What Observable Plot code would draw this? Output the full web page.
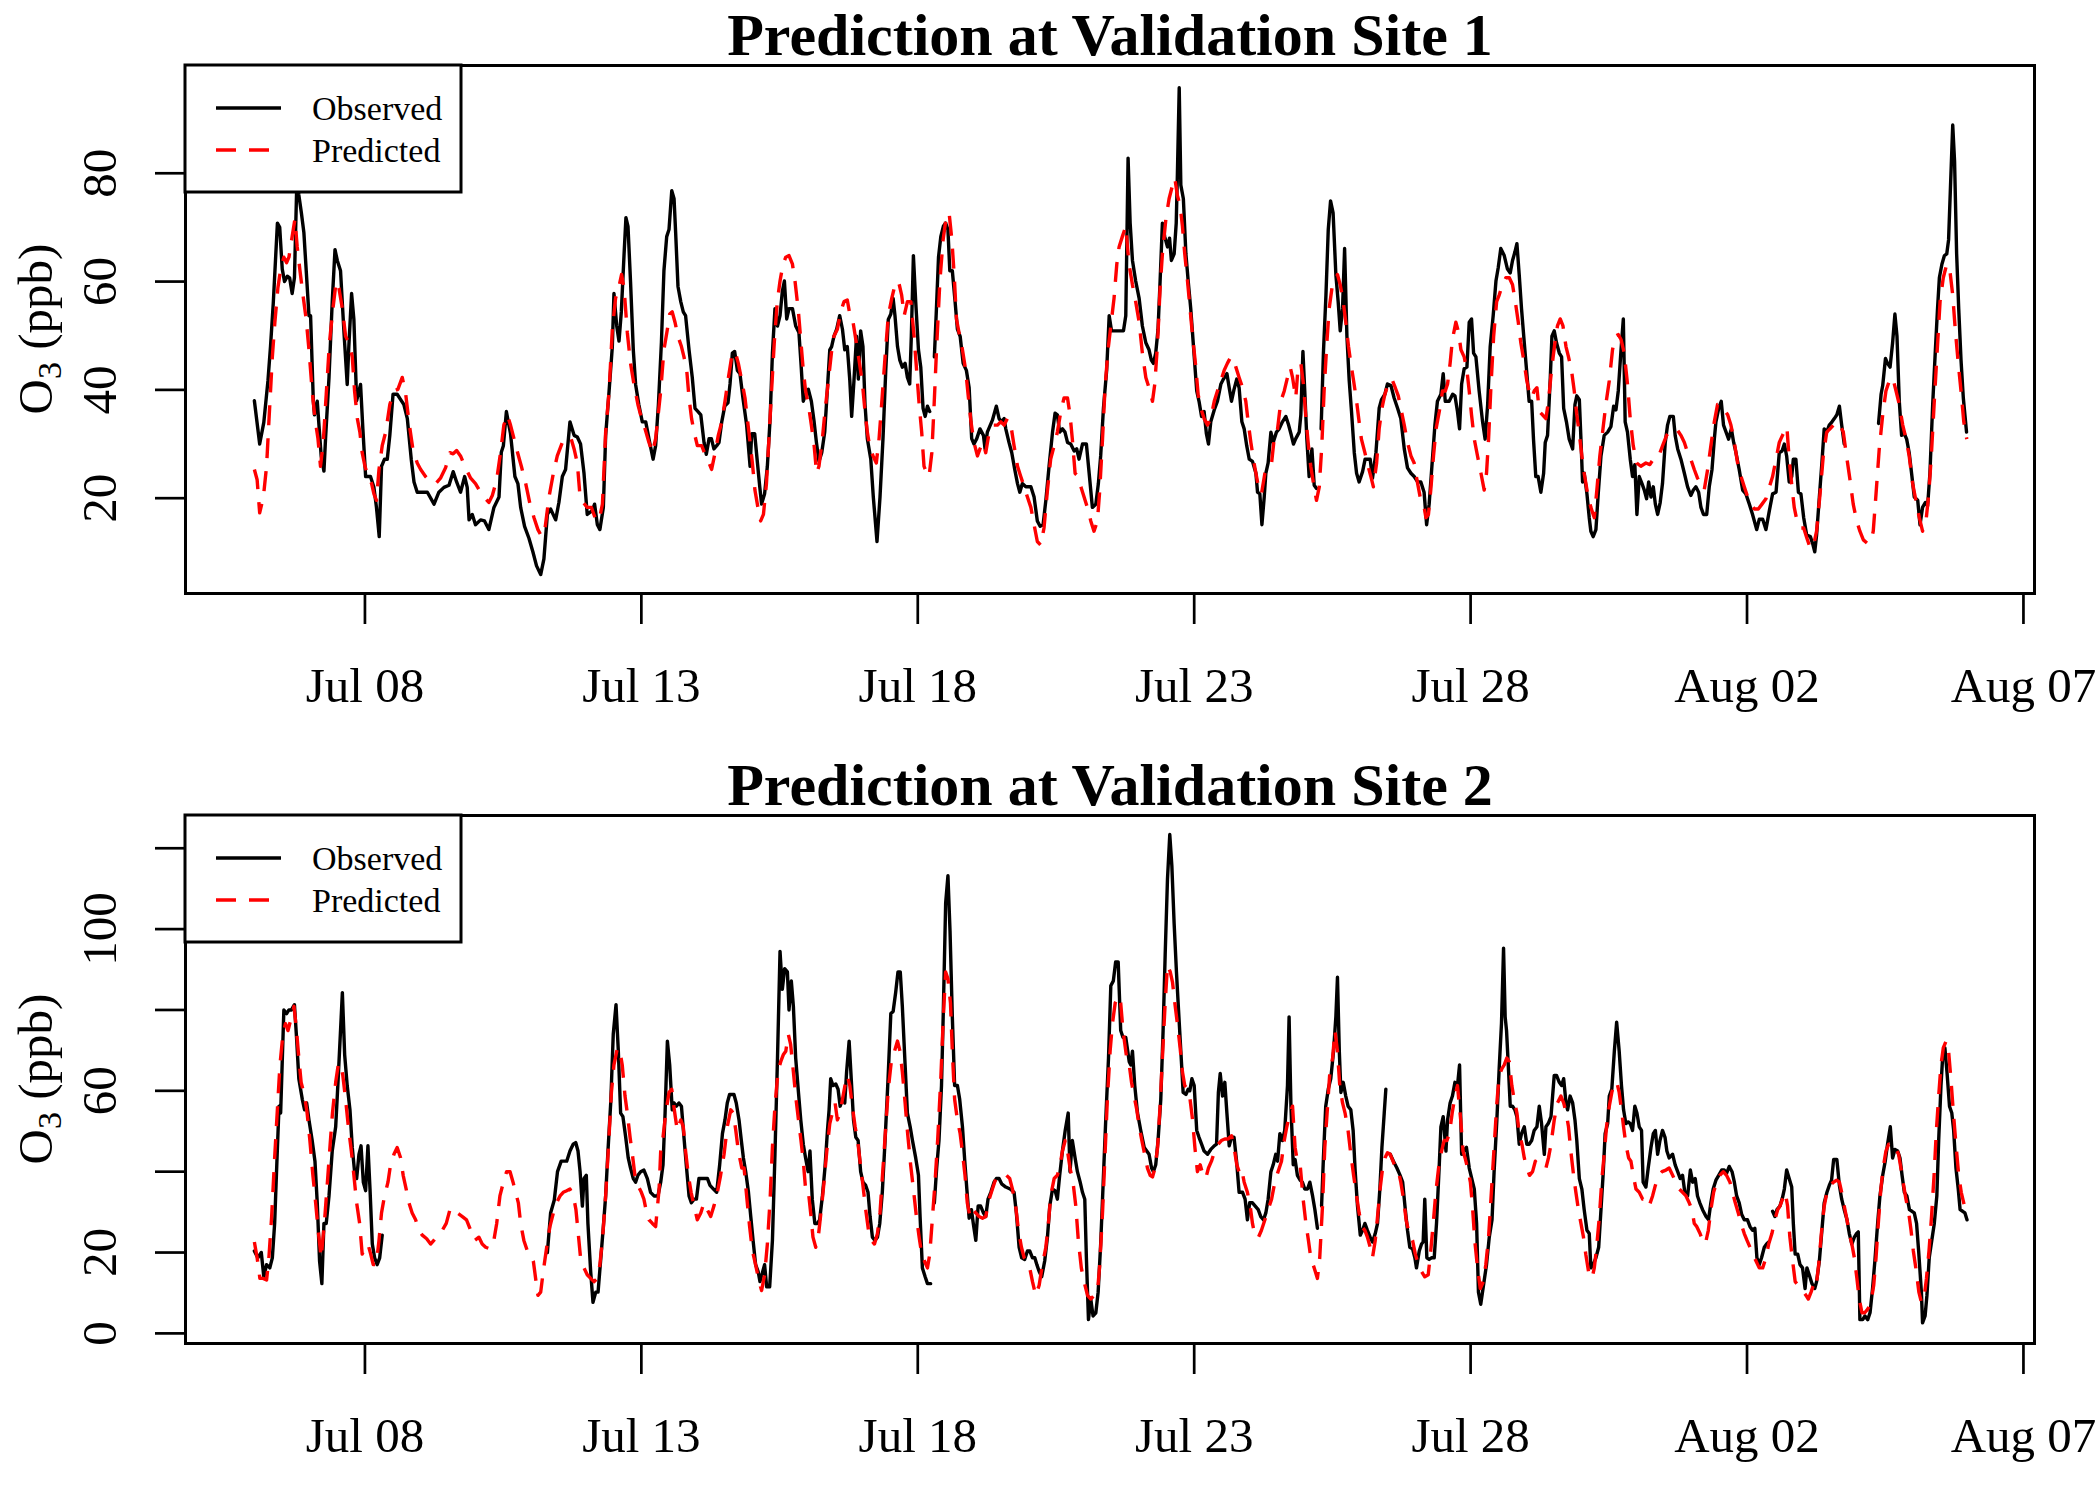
<!DOCTYPE html>
<html><head><meta charset="utf-8">
<script src="https://cdn.jsdelivr.net/npm/d3@7"></script>
<script src="https://cdn.jsdelivr.net/npm/@observablehq/plot@0.6"></script>
<style>
body{margin:0;background:#fff;}
#chart{width:2100px;height:1500px;}
#chart svg{display:block;}
</style></head><body><div id="chart"></div>
<script>
// ---- Data (hours since Jul 6 00:00, ozone ppb); null = missing ----
const panelTitles = ["Prediction at Validation Site 1", "Prediction at Validation Site 2"];
const seriesNames = ["Observed", "Predicted"];
const xTickLabels = ["Jul 08", "Jul 13", "Jul 18", "Jul 23", "Jul 28", "Aug 02", "Aug 07"];
const xTickDayOffsets = [2, 7, 12, 17, 22, 27, 32];
const yTicks1 = [20, 40, 60, 80];
const yLabels1 = [20, 40, 60, 80];
const yTicks2 = [0, 20, 40, 60, 80, 100, 120];
const yLabels2 = [0, 20, 60, 100];
const yDomain1 = [2.4, 99.9];
const yDomain2 = [-2.5, 128.1];
const xDomainHours = [-29.9, 772.8];

const site1Observed = [[0,38],[2.3,30],[4.1,34],[5.9,41.7],[7,48],[8.2,56],[10,70.8],[11,70],[12.1,62.3],[13.1,60],[14.3,61],[15.3,60.7],[16.4,57.8],[17.4,60.7],[18.3,76.2],[18.8,79],[19.3,76],[20.4,72.7],[21.5,69],[22.7,60.7],[23.7,53.7],[24.4,53.7],[25.6,37.9],[26.1,35.4],[27.3,37.9],[29,27.8],[30.2,25],[30.9,31],[32.4,42.3],[33.8,56.3],[35,65.9],[36,63.9],[37.4,62],[38.9,50.6],[40.3,41],[41,48],[42.2,57.8],[43.2,53],[44.4,38],[45.4,39.8],[46.1,41],[47.1,32.8],[48.3,24],[50.4,24],[51.9,22],[53,18.3],[54.2,12.9],[55.2,25.9],[56.5,27.2],[57.7,27.2],[58.8,31.6],[60.2,39.2],[62,39.2],[63.5,38.2],[64.9,37.3],[66.4,34.7],[68.1,27.2],[69.3,23],[70.7,21.1],[75.1,21.1],[78,18.9],[80.1,21.1],[82.3,22],[84.5,22.4],[86.3,24.9],[87.8,23],[89.5,21.1],[91.3,24],[92.4,22],[93.2,16],[94.6,17],[96,15.1],[98.2,16],[99.9,15.8],[101.8,14.2],[104,18.3],[106.2,20.2],[107.2,28.5],[108.1,29.7],[109.4,36],[111.2,31.9],[113.1,24],[114.4,22.7],[115.6,18.3],[117.3,14.8],[119.2,12.6],[120.9,10.1],[122.5,7.5],[124.3,5.9],[125.7,8.8],[127.2,17],[128.6,18],[130.8,16],[132.2,19.2],[133.7,24],[135.1,25.3],[137,34.1],[138.8,31.6],[140.2,31.3],[141.6,30],[143.1,24.6],[144.5,17],[146.7,17.7],[147.7,18.9],[148.9,15.1],[150,14.2],[151.5,18.3],[152.5,31.6],[154,39.8],[155.4,48],[156.1,57.8],[157.3,51.8],[158.3,49],[159.3,54.4],[160.5,65.1],[161.3,71.8],[162.2,70.2],[163.3,60],[164.5,47.4],[165.5,41],[166.9,37.3],[168.4,34.1],
[169.9,34.1],[171.6,30.3],[173.1,27.2],[174.2,29.7],[175.4,37.3],[176.7,48.7],[177.8,62],[179,68.3],[180,69.6],[181.2,76.8],[182.2,75.3],[182.9,68.9],[183.9,59.1],[185.1,56.3],[186.2,54.4],[187.2,53.7],[188.7,47.4],[190.1,42.3],[191.3,36.6],[192.6,36],[193.8,35.4],[195.2,30.3],[196.2,28.1],[197.4,31],[198.4,31],[199.5,29.1],[200.7,29.7],[201.7,30.3],[202.9,34.1],[204.2,37],[205.6,37.6],[206.5,41.1],[207.5,46.8],[208.5,47.1],[209.7,43.6],[210.8,43],[212.1,38.5],[213.7,33.5],[215.2,25.9],[215.9,31.9],[217.2,31.9],[218.4,26.5],[219.4,22.1],[220.2,18.9],[221.5,20.8],[222.7,25.9],[223.9,34.7],[224.9,46.8],[226,55],[227.1,51.8],[228.2,53.7],[229.2,58.2],[230.1,60.1],[231.1,53.1],[232.1,55],[233.6,55],[235,51.8],[236.4,50.6],[237.3,44.9],[238.3,37.9],[239.3,39.2],[240.5,40.1],[241.8,37.9],[243,34.1],[244,30.3],[245.1,26.8],[246.3,28.4],[247.6,32.2],[248.8,40.4],[249.8,47.4],[250.6,48],[251.6,49.9],[252.8,51.2],[254.1,53.7],[255.3,51.2],[256.3,47.4],[257.4,48],[258.5,41.7],[259.3,35.1],[260.3,41.7],[261.4,49.9],[262.2,42],[263.2,50.9],[264.2,48],[265.1,37.3],[266.1,31],[267.6,27.2],[268.7,20.2],[270.3,12],[271.6,20.2],[272.9,31],[274.1,43.6],[275.2,53],[276.3,54],[277.3,56.9],[278.1,53.7],[279.2,48],[280.2,45.5],[281.3,44.2],[282.5,44.9],[283.5,42.3],[284.5,41.1],[285.2,49.9],[286.1,64.8],[287.1,56.3],[288.3,47.4],[289.3,44.2],[290.3,36.6],[291.2,35.1],[292.2,37],[293.2,36],[294.2,null],[295.2,46.1],[296.1,55],[297,64.5],[298,68.3],[299.1,70.2],[300.1,70.8],[301.1,69.6],[301.9,62],[303,62],[304.2,56.3],[305.2,51.2],[306.4,49.9],[307.7,44.9],[309.1,43.6],[310.3,40.4],[311.4,31],[312.4,30],[313.6,31],[315,32.8],[316.5,31.6],[317.2,29.1],[318.2,32.2],[320.4,34.4],[322.1,37],[323.3,34.7],[324.4,34.1],[325.5,34.7],[326.2,32.8],[327.6,30.3],[328.8,28.4],[330.1,25.3],[331.3,22.7],[332.3,21.1],[333.4,22.7],[334.9,22.1],[337.1,22.1],[338.5,20.2],[339.9,15.8],[341.1,14.8],[342.4,15.1],[343.6,19.6],[345,25.9],[346.5,32.2],[347.6,35.7],[348.6,35.4],[349.6,32.2],[350.8,32.8],[351.9,32.2],[353,30.3],[354.4,30],[355.9,28.7],[357,29.1],[358,27.2],[359.5,30],[361.2,30],[362.4,24.6],[363.8,18.3],[365.3,18.9],[366.4,22.7],[367.4,27.8],[368.6,36.6],[370,43.6],[371.1,53.7],[372.1,50.9],
[377.3,50.9],[378.3,53.7],[379.3,82.8],[380.2,70.8],[381.2,63.9],[382.6,60.1],[384.1,56.9],[385.5,51.8],[387,48.7],[388.4,47.4],[389.4,45.5],[390.3,44.9],[391.3,46.8],[392.3,51.2],[393.2,60.1],[394.2,70.8],[395.2,68.3],[396.4,66.4],[397.3,68],[398.1,63.9],[399.3,65.1],[400.2,70.8],[400.7,79.7],[401.5,95.8],[402.2,77.8],[403.3,75.3],[404.4,65.1],[405.4,60.1],[406.5,55],[407.7,48],[409.1,39.8],[410.1,37.9],[411.2,35.1],[412.3,36],[413.3,31.9],[414.2,30],[415.2,34.1],[416.7,36.3],[418.1,37.9],[419.6,41.1],[420.7,42],[422.2,43],[423.2,40.4],[424.2,37.9],[425.3,40.1],[426.5,42],[427.5,40.4],[428.7,34.1],[429.7,32.8],[430.8,29.7],[431.9,27.2],[433.3,26.8],[434.8,24.6],[435.5,21.1],[436.5,20.8],[437.4,15.1],[438.4,20.2],[439.1,24.6],[440.1,26.5],[441.3,32.2],[442.3,30.3],[443.7,32.2],[444.9,32.8],[446.3,34.1],[447.8,35.1],[449,33.5],[450,31.9],[451.1,30],[452.1,31],[453.6,32.2],[454.3,35.4],[455.2,47.1],[456,39.8],[456.9,31],[457.9,24],[459.1,29.1],[460.1,22.4],[461.1,21.8],[462,null],[463.1,32.8],[464.1,46.8],[465.2,57.5],[466.2,69.6],[467.2,74.9],[468.3,72.7],[469.5,61.3],[470.5,56.3],[471.4,50.9],[472.4,55],[473.3,66.1],[474.3,49.9],[475.3,41.7],[476.3,36],[477.5,28.4],[478.5,24.6],[479.6,23],[481.1,24.9],[482.2,27.2],[484.4,27.2],[485.4,23.7],[486.9,28.4],[488.3,36.6],[489.3,38.2],[490.8,39.2],[491.9,41.1],[493.4,40.8],[494.8,38.5],[496.3,36.6],[497.7,34.7],[499.2,29.1],[500.6,25.6],[502.1,24.6],[503.5,24],[505,23],[506.4,23],[507.8,21.1],[508.9,15.1],[510,18.9],[511.2,25.9],[512.5,33.5],[513.6,37.9],[515.1,39.2],[516.1,43],[517,37.9],[518.7,37.9],[520.2,39.2],[521.2,38.9],[522.3,36],[523.2,32.8],[524.1,41.1],[525.2,43.9],[526.4,44.2],[527.4,52.5],[528.4,53.1],[529.3,46.8],[530.3,46.1],[531.7,39.8],[533.2,34.1],[534.3,30.9],[535.4,37.3],[536.5,48],[537.8,53.7],[539,60.1],[540,62.6],[541.1,66.1],[542.6,64.8],[544,62.3],[545.2,61.6],[546.2,63.9],[547.2,65.4],[548.1,67],[549.1,61.3],[550.1,55],[551.3,48.7],[552.3,43.6],[553.4,37.9],[554.5,37.9],[555.3,30.9],[556.3,24],[557.3,24],[558.5,21.1],[559.7,24.6],[560.4,30.3],[561.4,31.6],[562.6,42.3],[563.3,49.9],[564.3,50.9],[565.3,48.7],[566.5,46.8],[567.5,46.1],[568.4,36.6],[569.6,34.1],[570.8,30.9],[572.3,29.1],[573.3,37.3],[574.1,38.9],[575.2,38.2],[575.9,30.9],[576.6,23],[577.3,24.6],[578.5,20.8],[579.5,16.4],[580.2,13.9],
[581.2,12.9],[582.4,14.2],[583.4,20.8],[584.6,27.8],[586,31.6],[587.5,32.2],[588.9,33.2],[590.1,37],[591.1,36.3],[592.1,39.8],[593.3,47.4],[594.3,53.1],[595.1,34.1],[596.1,32.2],[597.3,27.2],[598.3,24],[599.3,26.2],[600.2,17],[601.2,24],[602.4,22.7],[603.4,21.5],[604.4,19.9],[605.3,23],[606.3,20.2],[607.3,22.1],[608.2,18.9],[609.2,17],[610.3,19.2],[611.3,22.7],[612.5,30.3],[613.5,33.5],[614.5,35.1],[616,35.1],[616.8,31.6],[617.9,29.1],[619.3,27.2],[620.8,24.6],[622.2,22.1],[623.6,20.5],[624.7,21.5],[625.8,22.1],[627,21.1],[628,18.3],[629.1,17],[630.5,17],[631.6,22.1],[632.8,25.3],[633.8,30.9],[634.5,34.1],[635.7,36.6],[636.8,37.9],[637.8,33.5],[638.9,32.2],[640,30.9],[641.2,32.8],[642.2,30.3],[643.2,28.4],[644.6,25.3],[646.1,21.5],[647.5,20.8],[649,18.9],[650.4,17],[652.2,14.2],[653.3,16.1],[654.8,16.1],[656.2,14.2],[657.7,17.7],[659.1,20.8],[660.6,21.1],[662,28.4],[663.2,28.7],[664.2,30],[665.2,27.8],[666.3,23],[667.4,24],[668.1,27.2],[669.2,27.2],[670.3,21.1],[671.4,20.8],[672.6,16.4],[673.9,13.2],[675.5,12.9],[676.5,11.6],[677.4,10.1],[678.2,13.2],[679.4,20.2],[680.5,26.5],[681.5,32.8],[682.6,32.2],[683.7,33.5],[684.9,34.1],[685.9,34.7],[687,35.4],[688.1,37],[689.1,33.5],[690.2,30],[691,null],[705.1,33.8],[706.2,39.2],[706.9,40.8],[708.1,45.8],[709,44.9],[710.1,44.2],[711.2,48.7],[712.2,54],[713.1,49.9],[714.1,37.9],[715.1,31.6],[716.3,31.9],[717.3,30.9],[718.4,28.4],[719.6,24],[720.6,20.2],[722.1,19.6],[723.1,15.1],[724.2,18.3],[725.4,19.2],[726.4,18.6],[727.4,24.6],[728.6,37.3],[729.7,46.8],[730.7,55],[731.5,60.7],[732.6,63.2],[733.7,64.8],[734.7,65.1],[735.5,67.7],[736.4,78.4],[737.3,88.9],[738.1,82.2],[739,65.1],[739.9,55],[740.9,45.5],[741.9,38.5],[743.3,32.2]];

const site1Predicted = [[0,25.3],[1.2,23.4],[2.3,17.3],[3.9,20.2],[5.3,25.9],[6.3,34.1],[7.8,46.1],[8.9,52.5],[10.2,58.8],[11.4,62.3],[12.8,64.5],[14,63.5],[15,64.5],[16.4,68.3],[17.6,71.5],[18.6,66.4],[19.8,62],[21.1,57.5],[22.5,53],[23.7,47.4],[25.1,39.8],[26.3,34.7],[27.6,31],[28.7,25.9],[29.9,30.3],[31.2,39.2],[32.6,48.7],[34.1,55],[35.5,60],[36.7,58.8],[38.2,55],[39.6,49.9],[41,48.7],[42.5,46.1],[43.5,39.8],[44.7,34.7],[45.8,32.2],[46.8,28.4],[48,25.9],[49.4,24],[50.9,22.7],[51.9,20.8],[53,19.6],[54.1,25.3],[55.5,29.7],[57,32.2],[58.8,37.3],[60.6,39.8],[62.3,40.1],[64.2,42.3],[65.7,39.2],[67.1,34.1],[68.8,29.1],[70.7,26.5],[72.2,25.3],[74.3,24],[76.5,23],[78.7,22.7],[80.8,23.7],[83,25.6],[84.9,28.4],[86.3,28.2],[87.8,28.8],[89.5,27.8],[91.7,25.6],[93.9,23.7],[96,22.7],[98.2,21.1],[100.4,19.9],[101.8,19.2],[103.3,20.5],[105.2,23.4],[106.9,28.5],[108.3,33.5],[109.8,35.4],[111.2,33.5],[112.7,31],[114.4,28.2],[115.9,25.9],[117.8,22.7],[119.6,19],[121.4,16.4],[123.1,14.2],[124.7,12.9],[126.2,14.5],[127.9,20.2],[129.8,24.6],[131.5,27.8],[133.7,30.3],[135.6,30.9],[137.3,31.3],[138.8,29.1],[140.2,26.5],[141.4,20.2],[142.8,19.2],[144.5,18.3],[146.3,18.3],[147.9,16.4],[149.6,15.8],[151.1,18.9],[152.5,32.2],[154,39.8],[155.4,51.2],[156.8,56.9],[158.3,59.1],[159.4,61.3],[160.5,58.8],[161.9,50.6],[163.3,44.9],[164.8,41],[166.5,37.3],[168.1,34.7],[169.6,32.8],[171.3,30.3],[172.8,28.4],[174.2,31],
[176.4,39.8],[177.8,47.4],[179.3,51.2],[180.3,54],[181.4,54.4],[182.6,52.5],[183.9,49.9],[185.4,48],[186.5,46.1],[187.7,43.6],[188.7,38.5],[189.8,34.7],[190.9,32.2],[192.3,29.7],[194.2,29.7],[195.9,27.8],[197.4,26.5],[198.5,25.3],[200,28.4],[201.4,31.6],[202.9,34.1],[204.3,37.9],[205.8,42.3],[207.2,46.1],[208.7,47.1],[210.1,44.9],[211.6,41.7],[213,38.5],[214,34.7],[215.2,30.3],[216.2,26.5],[217.3,21.5],[218.6,18.3],[219.8,15.8],[221,17],[222.3,22.7],[223.4,31],[224.6,40.4],[225.7,48.7],[227,56.3],[228.2,60.1],[229.5,63.2],[230.7,64.5],[232.1,64.8],[233.6,63.2],[234.7,60.1],[236.2,54.4],[237.3,48.7],[238.3,43.6],[239.3,39.8],[240.5,37.3],[241.8,33.5],[243,29.7],[244.1,24.6],[245.1,25.9],[246.6,31],[247.7,36],[249.2,41.7],[250.5,46.8],[251.6,49.9],[253.1,51.2],[254.5,54.4],[256,56.3],[257.4,56.6],[258.6,53.7],[259.9,52.5],[261.1,49.3],[262.5,45.5],[264,41.1],[265.1,36],[266.1,32.2],[267.3,29.1],[268.6,27.8],[270,26.5],[271.2,31],[272.3,37.3],[273.8,46.1],[275.2,53.7],[276.7,56.9],[278.1,59.4],[279.6,60.1],[281,57.5],[282.1,53.7],[283.5,56.3],[285,56.3],[286.4,49.9],[287.5,43.6],[288.6,37.3],[289.7,32.2],[290.7,25.9],[291.9,24.6],[292.9,24],[294.1,28.4],[295.1,37.3],[296.2,48],[297.6,60.1],[299,67.7],[300.4,72.1],[301.6,72.7],[302.8,67.7],[303.8,61.3],[304.8,53.1],[305.9,50.6],[307.4,47.4],[308.8,43.6],[310,38.5],[311.1,34.1],[312.4,30.3],[313.9,27.8],[315,29.1],[316.3,30.3],[317.5,28.4],[319,32.2],[320.7,33.5],[322.6,33.5],[324,34.1],[325.5,33.5],[326.9,34.7],[328.4,33.5],[329.8,29.7],[331.3,25.9],[332.7,24],[334.2,22.1],[335.6,20.2],[337.1,18.3],[338.5,15.1],[339.9,12],[341.4,11.3],[342.8,14.5],[344.3,21.5],[345.7,27.2],[347.2,29.7],[348.6,32.2],[350.1,36],[351.5,38.5],[353,38.5],[354.1,35.4],[355.1,30.9],[356.3,24.6],[357.6,24],[358.8,22.1],[360.2,20.2],[361.6,18.3],[363.1,15.8],[364.5,13.9],[366,15.8],[367,21.5],[368.2,30.9],[369.3,40.4],[370.6,47.4],[371.8,51.8],[373.2,56.9],[374.4,63.2],[375.4,66.4],[376.8,68.3],[378.3,70.2],
[379.7,63.2],[381.2,59.4],[382.6,56.3],[384.1,52.5],[385.5,46.8],[387,42.3],[388.4,40.4],[389.9,37.9],[390.9,41.1],[392.1,48.7],[393.2,58.8],[394.2,65.1],[395.7,71.5],[397.1,75.3],[398.6,77.8],[399.6,79.1],[400.7,75.9],[401.9,74],[402.9,70.2],[403.9,65.1],[405.1,60.1],[406.2,55],[407.3,49.9],[408.7,44.2],[409.7,39.2],[410.9,36.6],[412.3,34.7],[413.8,33.5],[415.2,34.7],[416.7,37.9],[418.1,39.8],[419.6,41.7],[421,43.6],[422.4,44.9],[423.9,46.1],[425.1,45.5],[426.1,44.2],[427.5,42.3],[429,40.4],[430.4,37.9],[431.6,33.5],[432.6,30.3],[433.7,27.2],[434.8,24.6],[435.9,22.1],[437.2,20.8],[438.7,24.6],[440.1,25.9],[441.6,26.5],[442.7,30.9],[444.2,32.8],[445.6,37.9],[447.1,39.8],[448.5,42.3],[449.7,44.2],[450.7,42.3],[452.1,38.5],[453.1,44.2],[454.3,44.9],[455.5,40.8],[456.5,34.7],[457.6,29.7],[458.6,25.9],[459.8,22.7],[461.1,19.6],[462.3,22.1],[463.4,29.7],[464.4,39.8],[465.6,48.7],[466.6,55],[467.8,58.8],[469.1,60.1],[470.2,61.3],[471.4,59.4],[472.7,56.3],[473.8,52.5],[475,48],[476,44.9],[477.2,41.7],[478.5,37.9],[479.6,34.1],[480.6,30.9],[482.1,28.4],[483.5,25.9],[484.7,24],[485.8,22.1],[487.2,26.5],[488.3,32.8],[489.5,36.6],[490.8,39.2],[492.2,41.1],[493.8,42],[495.3,40.4],[496.6,38.9],[498,36],[499.2,33.5],[500.6,30.3],[502.1,27.8],[503.5,26.5],[504.7,23.4],[506.1,20.2],[507.6,18.9],[508.6,16.4],[509.7,17],[510.7,21.5],[511.9,27.8],[513,32.8],[514.4,36],[515.8,39.8],[517,39.8],[518,41.1],[519.1,44.9],[520.1,49.3],[521.6,52.5],[522.8,50.6],[523.8,47.4],[525.2,46.1],[526.4,43.6],[527.4,39.8],[528.4,35.4],[529.6,30.9],[531,27.8],[532.5,24.6],[533.9,21.5],[534.9,24.6],[535.8,30.9],[536.8,40.4],[538,49.9],[539.3,56.3],[540.4,57.5],[541.8,59.4],[543.3,60.7],[544.8,60.7],[546.2,59.4],[547.4,56.3],[548.7,52.5],[549.8,48.7],[551.3,44.9],[552.4,41.7],[553.4,39.8],[554.5,38.5],[555.6,39.8],[556.8,40.4],[557.8,36],[559.2,35.4],[560.7,34.7],[561.8,37.9],[563.1,43.6],[564.6,48.7],[565.7,51.8],[566.9,53.1],[568.1,51.8],[569.4,48],[570.5,46.1],[571.8,43.6],[573,39.8],[574.1,35.4],[575.1,32.2],[576.3,27.8],[577.3,24.6],[578.8,20.8],[580.2,18.3],
[581.7,16.4],[582.8,21.5],[584.1,27.8],[585.3,32.2],[586.7,37.3],[588.2,41.7],[589.6,47.4],[590.8,49.9],[592.1,50.2],[593.3,49.3],[594.7,46.8],[596.1,41.1],[597.3,34.7],[598.6,29.7],[600.1,26.5],[601.9,25.9],[604.1,26.5],[605.8,26.2],[607.3,27.2],[608.7,27.2],[610.2,28.4],[611.6,30],[613.1,31.6],[614.5,32.5],[616.4,32.8],[617.9,32.5],[619.3,31.6],[620.8,30.3],[622.2,28.4],[623.6,27.2],[625.1,25.3],[626.5,23.7],[628,22.7],[629.4,21.5],[630.9,25.3],[632.3,29.7],[633.8,34.1],[635.2,37.3],[636.7,37.3],[638.1,36.3],[639.6,35.4],[641,33.5],[642.5,30.3],[643.9,26.5],[645.4,24],[646.8,22.1],[648.3,20.2],[649.7,18.9],[651.2,18],[652.9,18],[654.5,18.9],[656.2,19.9],[657.7,22.1],[659.1,24],[660.6,27.2],[662,30.3],[663.4,31.6],[664.6,32.8],[665.3,33.2],[666.3,27.2],[667.5,22.1],[668.5,18.3],[669.7,15.8],[671.1,14.5],[672.6,14.5],[674,12.6],[675.5,10.7],[676.9,11.3],[678.2,13.9],[679.7,20.8],[681.1,27.8],[682.6,32.2],[684,32.8],[685.5,33.5],[686.9,34.1],[688.3,33.5],[689.8,32.2],[691.2,27.8],[692.7,23.4],[694.1,18.9],[695.6,15.8],[697,13.9],[698.5,12.3],[700.4,11.6],[701.8,12],[702.8,13.9],[704,20.8],[705.4,29.1],[706.9,35.4],[708.3,39.8],[709.8,41.7],[711.2,42.3],[712.7,39.8],[714.1,37.3],[715.6,33.5],[717,31],[718.4,27.8],[719.9,22.7],[721.3,19.6],[722.8,16.4],[724.2,13.9],[725.7,15.8],[726.9,20.8],[728,27.8],[729.3,37.9],[730.5,46.8],[731.8,56.3],[733.2,60.7],[734.7,63.2],[736.1,61.9],[737.3,57.5],[738.4,51.2],[739.7,44.9],[740.9,39.8],[742.1,34.1],[743.4,30.9]];

const site2Observed = [[0,20.4],[1.5,18.7],[3,20],[4.1,14],[5.3,17],[6.7,16.2],[7.8,18.7],[8.8,27.2],[9.9,44.3],[10.7,56.2],[11.4,54.5],[12.1,67.2],[12.8,80],[14,79.1],[15,80],[16.1,80],[17.4,81.3],[18.3,73.2],[19.3,63],[20.8,57.9],[21.8,55.3],[22.7,57],[23.7,52.8],[25.1,47.7],[26.3,42.6],[27.3,32.3],[28.3,17.9],[29.3,12.3],[30.2,27.2],[31.2,27.2],[32.4,34],[33.8,45.1],[35.3,51.1],[36.3,62.1],[37.4,74.9],[38.2,84.3],[39.2,68.9],[40.3,61.3],[41.5,55.3],[42.5,46],[43.5,40],[44.4,38.3],[45.4,44.3],[46.3,46.4],[47.3,37.4],[48.3,35.3],[49.3,46.4],[50.2,35.7],[51.2,22.1],[52.2,18.7],[53.3,17],[54.4,18.7],[55.5,24.3],[56,null],[127.2,20],[128.6,29.8],[130.2,33],[131.6,40],[133.2,42.6],[134.4,42.6],[135.6,42.6],[137,45.1],[138.4,46.8],[139.5,47.2],[140.5,45.1],[141.4,40],[142.4,31.5],[143.1,38.3],[144.1,39.1],[144.8,27.2],[146,15.3],[147,7.7],[148.2,10.2],[149.2,10.2],[150.3,17.9],[151.5,26.4],[152.5,34],[153.5,45.1],[154.7,57],[155.8,74],[157,81.3],[158,69.8],[159,54.5],[160,53.6],[161.2,48.5],[162.3,43.4],[163.3,40.9],[164.5,38.3],[165.5,37.4],[166.5,39.1],[167.7,40],[169.1,40.4],[170.6,38.3],[172,34.9],[173.5,34],[175.2,34],[176.4,37.4],
[177.4,41.7],[178.3,54.5],[179.3,72.3],[180.3,66.4],[181.4,55.3],[182.2,57],[183.2,56.2],[184.3,57],[185.4,56.2],[186.5,48.5],[187.5,41.7],[188.7,34],[189.7,32.3],[190.9,33.2],[191.9,33.2],[193,38.3],[194.5,38.3],[196.7,38.3],[197.8,36.6],[199.3,35.7],[200.7,34.9],[202,41.7],[203.2,49.4],[204.3,52.8],[205.3,57],[206.3,59.1],[208.2,59.1],[209.2,57],[210.4,52.8],[211.4,47.7],[212.3,43.4],[213.3,40],[214.5,34.9],[215.5,28.9],[216.5,23],[217.6,17],[218.7,15.3],[219.5,12.8],[220.5,14.9],[221.5,17],[222.4,11.5],[223.7,11.5],[224.9,23],[226,44.3],[227.1,68.1],[228.2,94.5],[229.2,85.1],[230.2,90.2],[231.4,89.4],[232.1,80],[233.1,87.2],[234,80.9],[235,68.1],[236.2,59.6],[237.2,52.8],[238.3,46.8],[239.3,43.4],[240.4,40],[241.2,45.1],[242.2,33.2],[243.3,27.2],[244.4,27.2],[245.4,28.1],[246.6,34],[247.7,40.9],[248.8,50.2],[249.5,55.3],[250.2,63],[251.2,61.3],[252.4,61.7],[253.4,60.4],[254.3,56.2],[255.3,57.9],[256.3,57],[257.1,64.7],[258.2,72.3],[259.2,62.1],[260.1,52.8],[261.1,48.5],[262.1,47.7],[263.2,40],[264.2,37.4],[265.4,36.6],[266.4,34.9],[267.3,28.9],[268.3,23.8],[269.4,23],[270.5,23.8],[271.5,27.2],[272.6,34.9],[273.8,47.7],[275.1,63],[276.3,79.1],[277.3,79.6],[278.4,84.3],[279.4,89.4],[280.4,89.4],[281.3,80.9],[282.5,66.4],[283.5,54.5],[284.7,51.1],[285.7,47.7],[287.1,43.4],[288.3,39.1],[289,28.9],[290,16.2],[291.2,14],[292.2,12.3],[293.6,12.3],[294.4,null],[295.2,32.3],[296.2,40.9],[297.2,47.7],[298.3,61.3],[299.1,80],[300.1,106.4],[301.1,113.2],[302,99.6],[303,78.3],[304,61.3],[305.2,61.3],[306.2,57.9],[307.4,51.1],[308.4,42.6],[309.3,35.7],[310.3,28.5],[311.3,30.6],[312.1,27.2],[313.2,23],[314.2,31.5],[315.3,31.5],[316.5,29.8],[317.5,28.9],[318.5,33.2],[319.7,34.9],[321.1,37.4],[322.1,38.3],[323.3,38.3],[324.4,37],[326.2,36.2],[328.1,35.7],[329.8,34.9],[330.8,29.8],[332,21.3],[333.1,18.7],[334.4,18.3],[335.6,20.4],[336.6,20.4],[337.8,18.7],[338.8,18.7],[339.7,17],[340.7,15.3],[341.8,14],[343.1,17.9],[344.3,23.8],[345.3,31.5],[346.5,35.7],[347.6,35.3],[348.6,33.2],[349.6,39.1],[350.8,45.1],[352,50.2],[353.3,54.5],[354.1,40],[355.1,47.7],[356.3,43.4],[357.3,40],[358.5,37.4],[359.5,34.9],[360.5,33.2],[361.2,18.7],[362.1,3.4],[363.1,8.5],[364.1,4.3],[365.3,5.1],[366.3,10.2],[367.4,22.1],[368.5,37.4],[369.6,52.8],[370.8,68.1],[371.8,86],[372.9,87.2],[373.9,91.9],[375,91.9],[376.1,74.9],[377.1,73.2],
[378.3,73.2],[379.8,67.2],[380.5,66.4],[381.2,69.8],[382.2,61.3],[383.4,54.5],[384.8,50.2],[386.3,46],[387.4,45.1],[388.4,44.3],[389.5,40.9],[390.3,40],[391.3,41.7],[392.3,47.7],[393.5,57.9],[394.5,74.9],[395.4,93.6],[396.4,112.3],[397.4,123.4],[398.3,115.7],[399.3,101.3],[400.3,89.4],[401.2,80],[402.2,69.8],[403.2,59.6],[404.4,59.1],[405.4,60.4],[406.1,60],[407,63],[408,61.3],[409.1,50.2],[410.1,48.5],[411.2,46.8],[412.3,45.1],[413.8,44.3],[415.2,45.5],[416.7,46.4],[417.7,46.8],[418.5,59.6],[419.3,64.3],[420.3,58.7],[421.3,62.1],[422.2,54.5],[423.2,46.4],[424.2,48.5],[425.3,48.5],[426.4,42.6],[427.5,34.9],[429,34.9],[430.1,33.2],[431.1,28.1],[432.1,32.3],[433.3,32.3],[434.5,31.5],[435.8,30.6],[436.9,28.9],[438.1,28.1],[439.1,29.8],[440.1,33.2],[441.3,40],[442.3,41.7],[443.4,44.3],[444.2,42.6],[445.2,49.4],[446.3,47.7],[447.3,50.2],[448.5,61.3],[449.2,78.3],[450,56.2],[451,41.7],[451.8,43],[452.8,39.1],[454,37.9],[455,37.4],[456,35.7],[457.2,35.7],[458.2,37.4],[459.4,34],[460.4,30.6],[461.5,26],[462.4,null],[463.3,31.5],[464.1,43.4],[465.1,56.2],[466.2,60.4],[467.3,63],[468.5,69.8],[469.5,78.3],[470.2,88.1],[471,69.8],[471.7,59.6],[472.7,62.1],[473.8,58.7],[474.8,56.2],[476,55.3],[477,50.2],[477.9,40],[478.9,31.5],[480.1,24.3],[481.1,25.5],[482.1,27.2],[483.2,25.5],[484.4,23.8],[485.4,22.6],[486.6,24.7],[487.6,27.2],[488.6,35.7],[489.5,46],[490.5,54.5],[491.2,60.4],[492,null],[493.1,44.3],[494.5,42.6],[496,40.9],[497.4,39.1],[498.5,37.4],[499.5,31.5],[500.6,25.5],[501.6,21.3],[502.8,20.9],[503.8,18.7],[504.5,16.2],[505.7,20.4],[506.7,22.1],[507.4,22.6],[508.1,33.2],[509,18.7],[510,18.3],[511,18.7],[512.2,18.7],[513.2,27.2],[514.4,41.7],[515.1,51.1],[516.1,53.6],[517.3,45.1],[518,52.8],[519.1,57],[520.1,58.7],[521.2,62.1],[522.3,61.3],[523.2,66.4],[524.1,44.3],[524.9,45.1],[526.2,46],[527.4,40.9],[528.5,38.3],[529.6,35.7],[530.6,27.2],[531.4,10.2],[532.4,7.2],[533.6,11.9],[534.9,17],[536.1,23.8],[537.3,28.1],[538.2,40],[539.4,52.8],[540.4,65.5],[541.4,76.6],[542.3,95.3],[543,78.3],[543.6,74.9],[544.5,64.7],[545.2,56.2],[546.2,56.2],[547.2,55.3],[548.1,53.6],[549.1,46.8],[550.1,49.4],[551.3,51.1],[552.4,46.8],[553.4,46.8],[554.5,47.7],[555.6,50.2],[556.8,51.1],[557.8,56.2],[558.8,51.9],[560,44.3],[560.7,51.1],[561.7,51.9],[562.9,53.6],[564.3,63.8],[565.3,63.8],[566.5,62.1],[567.5,61.3],[568.4,63],[569.4,57],[570.1,55.3],[571.2,58.7],[572.3,57],[573.3,52.8],[574.1,47.7],[575.2,38.3],[576.3,35.7],[577.3,30.6],[578.5,25.5],[579.5,24.7],[580.2,16.2],
[581.2,17],[582.4,18.7],[583.6,21.3],[584.6,30.6],[585.6,40],[586.4,49.4],[587.5,51.9],[588.2,58.7],[589.3,60.4],[590.4,69.8],[591.4,77],[592.5,69.8],[593.5,61.3],[594.4,55.3],[595.4,51.9],[596.4,52.3],[597.3,51.9],[598.3,50.2],[599.3,56.2],[600.2,54.5],[601.2,51.1],[602.2,50.2],[602.9,37.4],[604.1,36.2],[605.1,40.9],[606.3,46],[607.3,49.4],[608.2,50.2],[609.2,44.3],[610.2,47.7],[611.3,50.2],[612.4,48.5],[613.2,45.1],[614.2,43.4],[615.7,44.3],[616.8,41.7],[617.9,40],[619,38.3],[620,39.1],[621,34.9],[622.2,34],[623.4,40.4],[624.4,37.4],[625.5,38.3],[626.5,34],[627.5,32.3],[628.7,30.6],[630.2,28.9],[631.3,28.1],[632.3,32.3],[633.3,35.7],[634.5,37.9],[635.7,39.1],[637,40.4],[638.1,40.4],[639.1,39.6],[640.3,41.3],[641.5,40],[642.5,37.4],[643.5,34],[644.6,32.3],[645.7,29.4],[646.8,28.1],[648.2,28.1],[649.3,26.4],[650.4,25.5],[651.4,26],[652.3,18.7],[653.3,17],[654.3,18.7],[655.5,21.3],[656.5,22.1],[657.4,22.6],[658.2,null],[659.1,30.2],[660.1,28.9],[661,30.6],[662.3,31.5],[663.4,33.6],[664.2,35.7],[665.2,40.4],[666.3,38.3],[667.4,36.2],[668.1,27.2],[668.9,19.6],[670,19.6],[671,17],[672.1,16.2],[673.2,11.1],[674,16.2],[675,14.5],[676.2,12.3],[677.4,11.1],[678.2,12.8],[679.4,17.9],[680.5,25.5],[681.5,32.3],[682.7,34.9],[683.7,36.6],[684.7,37.9],[685.6,43],[687,43],[688.1,36.6],[689.1,33.2],[690.2,30.6],[691.4,28.1],[692.4,24.7],[693.5,22.1],[694.6,23.8],[695.6,24.7],[696.3,25.1],[697,3.4],[698.2,3.4],[699.2,4.3],[700.4,3.4],[701.4,5.1],[702.5,11.1],[703.5,17.9],[704.7,27.2],[705.7,34],[706.9,39.1],[708,42.6],[709,46.8],[710.2,51.1],[711.2,43.4],[712.2,45.5],[713.4,45.1],[714.4,43.4],[715.3,39.1],[716.3,34.9],[717.4,34],[718.5,30.6],[719.6,30.2],[720.6,29.8],[721.6,27.2],[722.5,20.4],[723.7,10.2],[724.2,2.6],[725.3,4.3],[726.1,9.4],[727.1,18.7],[728.2,23],[729.3,27.2],[730.4,34],[731.2,47.7],[732.2,61.3],[732.9,68.1],[733.9,70.6],[734.8,64.7],[735.9,56.2],[736.9,54.5],[737.7,50.2],[738.7,40.9],[739.7,35.7],[740.5,30.6],[741.6,30.2],[742.6,29.8],[743.5,28.1]];

const site2Predicted = [[0,22.6],[1.2,18.7],[2.4,13.6],[3.8,13.6],[5.3,13.2],[6.3,18.7],[7.5,28.9],[8.8,43.4],[9.9,54.5],[11.1,66.4],[12.4,74],[13.5,76.6],[14.6,74.9],[15.7,77.4],[17.2,80.9],[18.3,74.9],[19.3,68.1],[20.3,62.1],[21.8,58.7],[22.9,54.5],[24.1,47.7],[25.4,39.1],[26.6,32.3],[27.7,25.5],[29,18.7],[30.5,28.1],[31.6,36.6],[32.8,46],[33.9,54.5],[35.3,62.1],[36.4,66.4],[37.4,66.8],[38.4,63.8],[39.6,57.9],[40.8,51.1],[42.1,45.1],[43.2,39.1],[44.4,32.3],[45.7,27.2],[46.8,19.6],[48,21.3],[49.3,22.1],[50.5,19.6],[51.6,17],[52.9,17],[54.1,23],[55.2,29.8],[56.5,34],[58,37.4],[59.1,41.7],[60.6,44.3],[62,46],[63.5,43.4],[64.6,39.1],[65.9,35.7],[67.1,32.3],[68.5,29.8],[70,28.1],[71.4,25.5],[72.9,24.3],[74.8,23.4],[76.5,22.1],[77.9,23],[79.7,24.3],[81.6,25.5],[83.3,27.2],[84.9,30.6],[86.3,31.1],[88.1,29.8],[90.3,28.9],[92.1,28.1],[93.9,25.5],[95.6,23],[97.5,23.8],[98.9,22.1],[100.4,21.3],[102.3,20.9],[103.7,22.1],[105.2,27.2],[106.6,34],[108.1,37.4],[109.5,40],[111,40],[112.3,37.4],[113.4,34.9],[114.6,32.3],[115.6,27.2],[117,23],[118.5,20.4],[119.9,19.6],[121.1,17.9],[122.1,13.6],[123.1,9.4],[124.3,10.2],[125.4,15.3],[126.9,21.3],[128.3,26.4],[129.8,29.8],[131.2,32.3],[132.7,34],[134.1,34.9],[135.6,35.3],[137,35.7],[138.5,34],[139.6,30.6],[140.6,24.7],[141.6,18.7],[143.1,16.2],[144.5,14.5],[146,13.6],[147.4,12.8],[148.9,13.6],[150,17],[151.2,23.8],[152.5,34],[153.7,46],[155,59.6],[156.1,66.4],[157.6,70.6],[158.7,69.8],[159.7,66.4],[160.9,58.7],[161.9,54.5],[163.1,48.5],[164.1,44.3],[165.2,39.1],[166.5,36.6],[168,34.9],[169.1,33.2],[170.3,29.8],[171.3,28.1],[172.8,27.2],[174.2,26.4],[175.7,35.7],[176.4,45.1],
[177.4,48.5],[178.6,54.5],[180,59.6],[181.2,60.4],[182.3,55.3],[183.6,50.2],[185.1,52.8],[186.2,51.1],[187.2,45.1],[188.4,39.1],[189.6,34.9],[190.9,31.5],[192.3,28.1],[193.8,29.8],[195.2,32.3],[196.6,30.6],[198.1,28.9],[199.5,31.5],[201,34.9],[202.4,39.1],[203.9,44.3],[205.3,51.1],[206.8,55.3],[207.9,54.5],[209,50.2],[210.1,45.1],[211.6,40.9],[212.6,40.9],[213.7,34],[215,26.4],[216.2,20.4],[217.6,17],[219.1,12.8],[220.2,10.6],[221.5,14.5],[222.7,22.1],[223.9,33.2],[224.9,46],[226,56.2],[227.3,64.7],[228.5,67.2],[229.6,68.9],[230.7,69.8],[231.8,74],[232.8,71.5],[234,64.7],[235,58.7],[236.2,52.8],[237.3,47.7],[238.3,42.6],[239.3,35.7],[240.4,35.7],[241.5,29.8],[242.5,23.8],[243.7,21.3],[244.8,23.8],[246.1,30.6],[247.3,37.4],[248.5,45.1],[249.8,51.9],[250.9,54.5],[252.1,57],[253.1,52.8],[254.3,54.5],[255.3,57.9],[256.4,61.3],[257.4,63.8],[258.5,61.3],[259.6,56.2],[260.8,51.1],[261.9,47.7],[263.1,41.7],[264.2,36.6],[265.4,30.6],[266.6,25.5],[267.9,23],[269.2,22.1],[270.5,24.7],[271.6,29.8],[272.9,40.9],[274.1,51.1],[275.2,60.4],[276.5,67.2],[277.9,69.8],[279.2,72.3],[280.3,69.8],[281.3,64.7],[282.5,57],[283.6,49.4],[284.9,41.7],[286.1,35.7],[287.4,28.9],[288.6,23.8],[289.7,19.6],[290.9,17.9],[292.2,16.2],[293.2,19.6],[294.3,28.1],[295.5,37.4],[296.7,48.5],[298,63],[299.1,78.3],[300.1,89.4],[301.1,87.7],[302.2,81.7],[303,69.8],[304,57.9],[305.2,52.8],[306.4,49.4],[307.5,44.3],[308.5,39.1],[309.5,32.3],[310.7,28.9],[311.7,30.6],[313.2,29.8],[314.6,28.9],[316.1,28.5],[317.5,28.9],[319,33.2],[320.4,35.7],[321.9,38.3],[323.3,39.1],[324.7,39.1],[326.5,39.1],[327.9,38.3],[329.1,35.7],[330.5,31.5],[331.7,25.5],[333,21.3],[334.2,18.7],[335.3,17.9],[336.6,16.2],[337.8,12.8],[339.2,9.4],[340.7,11.9],[342.1,17],[343.6,21.3],[344.7,27.2],[345.7,34],[347.2,38.3],[348.6,39.1],[349.8,41.7],[350.8,45.1],[352,47.7],[353,45.1],[354.1,40.9],[355.4,37.4],[356.6,31.5],[357.7,23],[359,16.2],[360.2,12.8],[361.7,9.4],[363.1,8.5],[364.6,9.4],[366,10.2],[367,17],[368.2,29.8],[369.3,44.3],[370.3,57.9],[371.5,69.8],[372.5,76.6],[373.7,81.7],[375.1,83.4],[376.1,81.7],[377.1,74.9],
[378.7,68.1],[379.8,66.4],[380.8,62.1],[381.9,58.7],[383.1,55.3],[384.1,51.1],[385.3,47.7],[386.5,44.3],[387.7,40.9],[388.9,39.1],[389.9,38.7],[391,40.9],[392.1,46],[393.2,56.2],[394.2,68.1],[395.4,81.7],[396.4,91.1],[397.6,89.4],[398.6,86.8],[399.6,81.7],[400.7,76.6],[401.9,70.6],[402.9,64.7],[403.9,61.3],[405.1,60.4],[406.2,57.9],[407.3,52.8],[408.3,46],[409.4,40],[410.6,41.7],[411.9,39.1],[413,38.3],[414.2,40.9],[415.5,42.6],[416.9,45.1],[418.4,46.8],[419.8,47.7],[421.3,48.1],[422.7,48.1],[424.2,48.9],[425.3,46],[426.5,41.7],[427.5,40],[428.5,40.9],[429.7,37.4],[431.1,34.9],[432.3,31.5],[433.3,27.2],[434.5,23.8],[435.9,23.8],[437.2,25.5],[438.7,28.1],[440.1,30.6],[441.6,33.2],[443,37.4],[444.4,40],[445.9,42.6],[447.1,47.7],[448.2,51.1],[449.5,54.5],[450.7,56.2],[451.8,46],[452.8,42.6],[454,41.7],[455.3,33.2],[456.5,27.2],[457.6,23],[458.6,18.7],[460.1,16.2],[461.5,13.6],[462.5,18.7],[463.7,31.5],[464.7,46],[465.9,56.2],[466.9,64.7],[468.1,68.1],[469.1,74.9],[470.2,69.8],[471.2,61.3],[472.4,57],[473.5,54.5],[474.8,50.2],[476,44.3],[477.2,39.1],[478.5,34],[479.6,29.8],[480.8,26.4],[482.1,25.5],[483.2,23.8],[484.4,21.3],[485.4,18.7],[486.6,23],[487.6,28.9],[488.7,35.7],[489.8,40.9],[490.8,43.4],[491.9,44.7],[493.1,44.3],[494.3,42.6],[495.5,40.9],[496.7,40],[497.7,37.4],[498.9,33.2],[500,28.1],[501.3,24.7],[502.8,23],[504,19.6],[505.3,17],[506.7,15.3],[508.1,14],[509.6,14.5],[510.7,20.4],[511.9,28.1],[512.9,34.9],[514.1,40.9],[515.4,45.1],[516.5,47.7],[517.7,47.7],[518.8,49.4],[520,54.5],[521.2,58.7],[522.3,61.3],[523.7,52.8],[524.7,45.1],[525.6,43.4],[526.7,40.9],[527.9,37.4],[528.8,31.5],[529.8,23],[531,16.2],[532.2,11.1],[533.5,12.8],[534.6,17],[535.8,23.8],[537.1,35.7],[538.2,46],[539.4,57],[540.4,63.8],[541.6,65.5],[542.6,66.4],[543.7,68.1],[544.8,67.2],[545.9,61.3],[546.9,57.9],[548.1,54.5],[549.1,49.4],[550.3,46.8],[551.3,43.4],[552.4,40.9],[553.6,39.1],[554.9,40],[556.1,42.6],[557.3,41.7],[558.5,40.9],[559.7,40.9],[560.7,40.9],[561.8,43.4],[562.9,46.8],[564.3,52.8],[565.7,57],[567.2,58.7],[568.4,57],[569.5,54.5],[570.5,51.1],[571.5,45.1],[572.7,39.1],[573.7,34.9],[574.8,30.6],[575.9,27.2],[577,23.8],[578,19.6],[579.2,15.3],
[580.7,13.6],[581.7,16.2],[582.7,21.3],[583.9,28.9],[585,38.3],[586,44.3],[587,51.1],[588.2,56.2],[589.3,59.6],[590.4,62.1],[591.5,62.1],[592.5,59.6],[593.5,55.3],[594.4,51.1],[595.4,46.8],[596.6,43.4],[597.6,42.6],[598.6,39.1],[599.8,35.7],[601.2,34.9],[602.7,33.2],[604.1,33.2],[605.5,31.5],[607,34],[608.2,36.6],[609.6,39.1],[611.1,40],[612.8,40.4],[614.2,40.9],[615.7,39.1],[617.1,37.4],[618.6,35.7],[620,34.9],[621.5,34],[622.9,32.3],[624.1,30.6],[625.1,27.2],[626.2,26.4],[627.6,24.7],[628.7,23],[629.9,22.1],[631.2,25.5],[632.3,30.6],[633.5,34.9],[634.8,37.4],[636.2,39.1],[637.7,40],[639.1,39.1],[640.6,37.4],[641.7,34.9],[642.9,32.3],[644.2,29.8],[645.4,27.2],[646.8,24.7],[648,23],[649.3,21.3],[650.4,19.6],[651.9,17.9],[653.3,16.2],[654.8,16.2],[656.2,18.7],[657.4,22.1],[658.8,24.7],[660.1,28.1],[661.3,30.6],[662.3,31.5],[663.4,33.2],[664.6,34.9],[665.6,31.5],[666.6,23.8],[667.8,17.9],[668.9,12.8],[670.2,11.9],[671.4,11.1],[672.6,10.2],[673.6,9.4],[674.6,8.5],[675.8,10.2],[676.8,11.9],[677.9,11.1],[679.1,17],[680.4,25.5],[681.5,31.5],[682.7,34.9],[684,36.6],[685.5,37.4],[686.9,37.9],[688.1,37.4],[689.1,34.9],[690.2,31.5],[691.4,28.1],[692.4,24.7],[693.5,22.1],[694.6,18.7],[695.7,13.6],[696.7,8.5],[697.9,5.1],[699.1,5.1],[700.4,6],[701.8,7.7],[703,11.9],[704,18.7],[705.1,28.1],[706.1,35.7],[707.1,40.9],[708.3,45.1],[709.5,46.8],[710.5,46.4],[711.5,46.8],[712.7,45.5],[713.8,44.3],[714.8,40.9],[716,36.6],[717,33.2],[718.2,29.8],[719.2,25.5],[720.2,20.4],[721.5,15.3],[722.6,10.2],[723.7,7.7],[724.8,8.5],[725.9,13.6],[727,20.4],[728.1,28.9],[729.2,39.1],[730.2,50.2],[731.2,58.7],[732.2,66.4],[733.2,70.6],[734.4,72.3],[735.5,69.8],[736.5,63],[737.6,54.5],[738.7,46.8],[739.9,39.1],[741,34.9],[742.4,31.5],[743.4,30.6]];

// ---- Rendering ----
const startMs = Date.UTC(2014, 6, 6);
const toDate = h => new Date(startMs + h * 3600000);
const toRows = arr => arr.map(([h, v]) => ({t: toDate(h), v: v == null ? NaN : v}));
const xTicks = xTickDayOffsets.map(d => toDate(d * 24));
const SERIF = "'Liberation Serif','Times New Roman',Times,serif";

function panel(obs, pred, yDomain, yTicks, yLabels, title) {
  const fmt = new Map(xTicks.map((d, i) => [+d, xTickLabels[i]]));
  const plot = Plot.plot({
    width: 2100, height: 750,
    marginTop: 65, marginBottom: 157, marginLeft: 185, marginRight: 66,
    style: {fontFamily: SERIF, color: "#000", background: "#fff", overflow: "visible"},
    x: {type: "utc", domain: xDomainHours.map(toDate), label: null},
    y: {domain: yDomain, label: null},
    marks: [
      Plot.line(toRows(obs), {x: "t", y: "v", stroke: "#000", strokeWidth: 3.4}),
      Plot.line(toRows(pred), {x: "t", y: "v", stroke: "#ff0000", strokeWidth: 3.4, strokeDasharray: "20,13", strokeLinecap: "butt"}),
      Plot.frame({stroke: "#000", strokeWidth: 3}),
      Plot.axisX({ticks: xTicks, tickFormat: d => fmt.get(+d), tickSize: 31, tickPadding: 43, fontSize: 49, strokeWidth: 2.7, label: null}),
      Plot.axisY({ticks: yTicks, tickFormat: d => yLabels.includes(d) ? String(d) : "", tickSize: 30, tickPadding: 40, tickRotate: -90, textAnchor: "middle", lineAnchor: "bottom", fontSize: 49, strokeWidth: 2.7, label: null}),
      Plot.text([title], {frameAnchor: "top", dy: -11, lineAnchor: "bottom", fontSize: 60, fontWeight: "bold", text: d => d})
    ]
  });
  const svg = d3.select(plot);
  // y-axis title O3 (ppb)
  const yl = svg.append("text")
    .attr("transform", `translate(52,${(65 + 593) / 2}) rotate(-90)`)
    .attr("text-anchor", "middle")
    .attr("font-family", SERIF)
    .attr("font-size", 49)
    .attr("fill", "#000");
  yl.append("tspan").text("O");
  yl.append("tspan").attr("font-size", 34).attr("dy", 9).text("3");
  yl.append("tspan").attr("dy", -9).text(" (ppb)");
  // legend
  const lg = svg.append("g");
  lg.append("rect").attr("x", 185).attr("y", 65).attr("width", 276).attr("height", 127)
    .attr("fill", "#fff").attr("stroke", "#000").attr("stroke-width", 3);
  lg.append("line").attr("x1", 216).attr("x2", 281).attr("y1", 108).attr("y2", 108)
    .attr("stroke", "#000").attr("stroke-width", 3.4);
  lg.append("line").attr("x1", 216).attr("x2", 282).attr("y1", 150).attr("y2", 150)
    .attr("stroke", "#ff0000").attr("stroke-width", 3.4).attr("stroke-dasharray", "20,13");
  [[seriesNames[0], 119.5], [seriesNames[1], 161.5]].forEach(([s, y]) => {
    lg.append("text").attr("x", 312).attr("y", y).attr("font-family", SERIF)
      .attr("text-anchor", "start")
      .attr("font-size", 34).attr("fill", "#000").text(s);
  });
  return plot;
}

const chart = document.getElementById("chart");
chart.appendChild(panel(site1Observed, site1Predicted, yDomain1, yTicks1, yLabels1, panelTitles[0]));
chart.appendChild(panel(site2Observed, site2Predicted, yDomain2, yTicks2, yLabels2, panelTitles[1]));
</script>
</body></html>
